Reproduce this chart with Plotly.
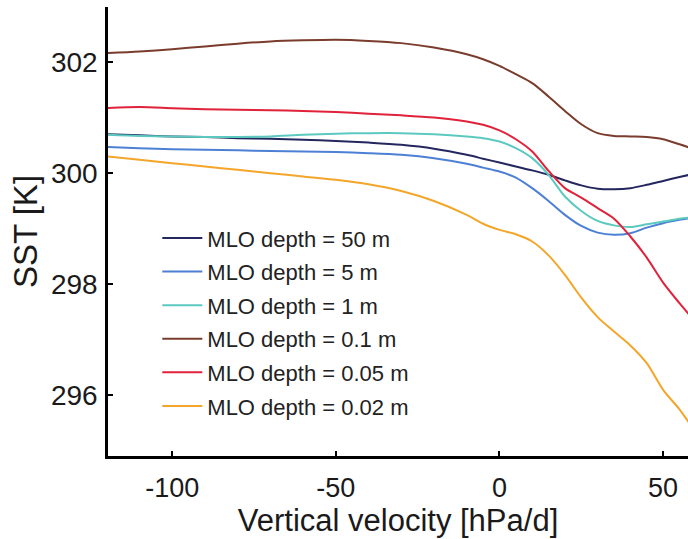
import plotly.graph_objects as go

velocity = [-120, -110, -100, -90, -80, -70, -60, -50, -40, -30, -20, -10, -5, 0,
            5, 10, 15, 20, 25, 30, 35, 40, 45, 50, 55, 58]

sst_50m = [300.70, 300.68, 300.66, 300.65, 300.63, 300.62, 300.60, 300.58, 300.55, 300.51,
           300.44, 300.33, 300.26, 300.19, 300.12, 300.05, 299.97, 299.87, 299.78, 299.72,
           299.71, 299.73, 299.79, 299.86, 299.93, 299.97]
sst_5m = [300.47, 300.45, 300.43, 300.42, 300.41, 300.40, 300.39, 300.38, 300.36, 300.33,
          300.27, 300.17, 300.10, 300.03, 299.92, 299.73, 299.50, 299.25, 299.05, 298.93,
          298.89, 298.92, 299.02, 299.10, 299.16, 299.19]
sst_1m = [300.69, 300.67, 300.66, 300.65, 300.65, 300.66, 300.69, 300.71, 300.72, 300.72,
          300.70, 300.66, 300.63, 300.57, 300.45, 300.27, 299.97, 299.58, 299.32, 299.14,
          299.06, 299.03, 299.08, 299.13, 299.18, 299.20]
sst_01m = [302.16, 302.19, 302.23, 302.28, 302.33, 302.37, 302.39, 302.40, 302.38, 302.34,
           302.26, 302.14, 302.05, 301.93, 301.78, 301.62, 301.38, 301.12, 300.88, 300.72,
           300.67, 300.66, 300.65, 300.61, 300.52, 300.46]
sst_005m = [301.17, 301.19, 301.17, 301.15, 301.14, 301.13, 301.12, 301.10, 301.07, 301.04,
            301.00, 300.93, 300.87, 300.77, 300.61, 300.39, 300.04, 299.73, 299.56, 299.37,
            299.18, 298.86, 298.48, 298.03, 297.66, 297.45]
sst_002m = [300.30, 300.24, 300.18, 300.12, 300.06, 300.00, 299.94, 299.88, 299.80, 299.68,
            299.50, 299.25, 299.09, 298.98, 298.90, 298.77, 298.52, 298.17, 297.76, 297.41,
            297.15, 296.90, 296.58, 296.10, 295.75, 295.50]

series_names = ["MLO depth = 50 m", "MLO depth = 5 m", "MLO depth = 1 m",
                "MLO depth = 0.1 m", "MLO depth = 0.05 m", "MLO depth = 0.02 m"]
series_values = [sst_50m, sst_5m, sst_1m, sst_01m, sst_005m, sst_002m]
series_colors = ["#24265e", "#4d80d4", "#5cc9c0", "#7a3c2c", "#e0223a", "#f3a62a"]

x_ticks = [-100, -50, 0, 50]
x_tick_labels = ["-100", "-50", "0", "50"]
y_ticks = [296, 298, 300, 302]
y_tick_labels = ["296", "298", "300", "302"]

FONT = "Liberation Sans, Arial, Helvetica, sans-serif"

fig = go.Figure()
for i, (name, vals, col) in enumerate(zip(series_names, series_values, series_colors)):
    fig.add_trace(go.Scatter(
        x=velocity, y=vals, mode="lines", name=name,
        line=dict(color=col, width=2, shape="spline", smoothing=0.8),
        legendgroup=f"g{i}",
    ))

fig.update_layout(
    width=688, height=539,
    margin=dict(l=108, r=0, t=7, b=83),
    paper_bgcolor="white", plot_bgcolor="white",
    font=dict(family=FONT, color="#1a1a1a"),
    showlegend=True,
    legend=dict(
        x=0.085, y=0.532, xanchor="left", yanchor="top",
        bgcolor="rgba(255,255,255,0)", borderwidth=0,
        font=dict(family=FONT, size=22, color="#222"),
        tracegroupgap=2,
        itemwidth=40,
    ),
)

fig.update_xaxes(
    range=[-119.6, 57.6], tickvals=x_ticks, ticktext=x_tick_labels,
    showgrid=False, zeroline=False,
    showline=True, linecolor="black", linewidth=2.5,
    ticks="inside", ticklen=5, tickwidth=2, tickcolor="black",
    tickfont=dict(family=FONT, size=27, color="#1a1a1a"),
    ticklabelstandoff=6,
    title=dict(text="Vertical velocity [hPa/d]", font=dict(family=FONT, size=31, color="#1a1a1a"),
               standoff=6),
)
fig.update_yaxes(
    range=[294.91, 302.99], tickvals=y_ticks, ticktext=y_tick_labels,
    showgrid=False, zeroline=False,
    showline=True, linecolor="black", linewidth=2.5,
    ticks="inside", ticklen=5, tickwidth=2, tickcolor="black",
    tickfont=dict(family=FONT, size=28, color="#1a1a1a"),
    ticklabelstandoff=2,
    title=dict(text="SST [K]", font=dict(family=FONT, size=33, color="#1a1a1a"),
               standoff=4),
)

fig.write_html("out.html")
